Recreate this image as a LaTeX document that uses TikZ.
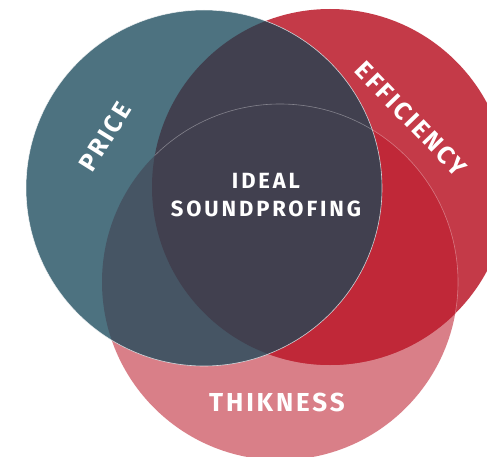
\documentclass[tikz,border=0pt]{standalone}
\usepackage{fontspec}
\setmainfont{Fira Sans}
\definecolor{cblue}{HTML}{4D7280}
\definecolor{cred}{HTML}{C43A48}
\definecolor{cpink}{HTML}{D97F88}
\definecolor{credpink}{HTML}{C02838}
\definecolor{cbluepink}{HTML}{465564}
\definecolor{cbluered}{HTML}{41404F}
\tikzset{
  lbl/.style={text=white, inner sep=0pt},
  edge/.style={draw=white, line width=0.6pt}
}
\begin{document}
\begin{tikzpicture}[x=1pt,y=1pt]
\useasboundingbox (0,0) rectangle (487,456);
\def\pathB{(204,268) circle[radius=178]}
\def\pathR{(330,269) circle[radius=178]}
\def\pathP{(280,174) circle[radius=178]}
\fill[cpink] \pathP;
\fill[cred] \pathR;
\fill[cblue] \pathB;
\begin{scope}
  \clip \pathR; \fill[credpink] \pathP;
\end{scope}
\begin{scope}
  \clip \pathB; \fill[cbluepink] \pathP;
\end{scope}
\begin{scope}
  \clip \pathB; \fill[cbluered] \pathR;
\end{scope}
\begin{scope}
  \clip \pathR; \draw[edge, draw opacity=0.35] \pathP;
\end{scope}
\draw[edge, draw opacity=0.75] \pathB;
\node[lbl, font=\fontsize{22}{22}\selectfont\bfseries\addfontfeature{LetterSpace=13}] (ideal) at (266,275) {IDEAL};
\node[lbl, font=\fontsize{22}{22}\selectfont\bfseries\addfontfeature{LetterSpace=13}] (sound) at (266,247) {SOUNDPROFING};
\node[lbl, font=\fontsize{26}{26}\selectfont\bfseries\addfontfeature{LetterSpace=11}] (thik) at (277,54) {THIKNESS};
\node[lbl, font=\fontsize{25}{25}\selectfont\bfseries\addfontfeature{LetterSpace=10}, rotate=58] (price) at (105,319) {PRICE};
\node[lbl, font=\fontsize{25}{25}\selectfont\bfseries\addfontfeature{LetterSpace=10}, rotate=-46] (eff) at (411,337) {EFFICIENCY};
\end{tikzpicture}
\end{document}
